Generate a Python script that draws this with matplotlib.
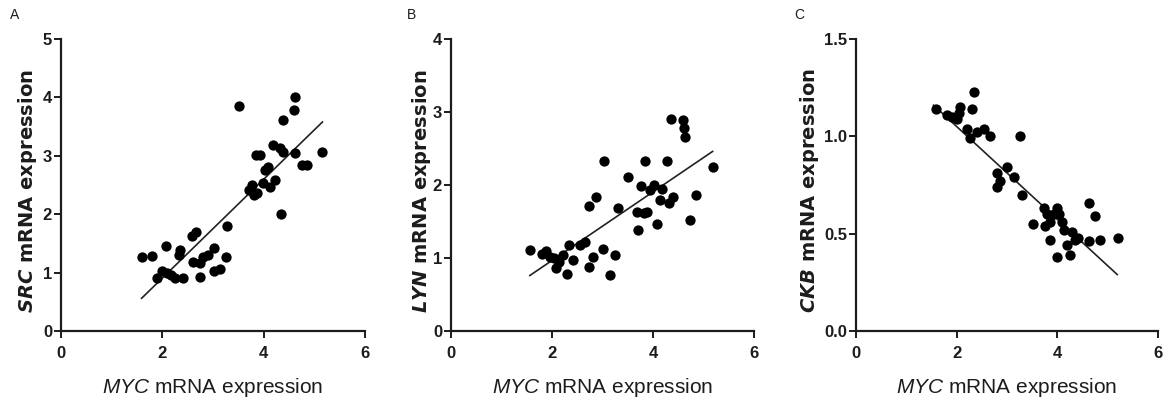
import matplotlib.pyplot as plt

plt.rcParams["font.family"] = ["Liberation Sans", "DejaVu Sans"]
plt.rcParams["mathtext.fontset"] = "custom"
plt.rcParams["mathtext.rm"] = "Liberation Sans"
plt.rcParams["mathtext.it"] = "Liberation Sans:italic"
plt.rcParams["mathtext.bf"] = "DejaVu Sans:bold"
plt.rcParams["mathtext.bfit"] = "DejaVu Sans:italic:bold"

# Panel A: MYC vs SRC
myc_a = [1.59, 1.80, 1.89, 1.99, 2.07, 2.09, 2.18, 2.25, 2.32, 2.35, 2.40, 2.58,
         2.66, 2.60, 2.74, 2.74, 2.81, 2.91, 3.01, 3.01, 3.13, 3.25, 3.28, 3.51,
         3.70, 3.76, 3.80, 3.86, 3.85, 3.93, 3.99, 4.03, 4.09, 4.13, 4.19, 4.22,
         4.32, 4.34, 4.39, 4.38, 4.59, 4.62, 4.61, 4.75, 4.85, 5.16]
src_a = [1.26, 1.28, 0.90, 1.02, 1.46, 0.99, 0.96, 0.90, 1.30, 1.39, 0.90, 1.62,
         1.70, 1.19, 1.16, 0.93, 1.27, 1.30, 1.42, 1.02, 1.07, 1.26, 1.80, 3.85,
         2.41, 2.50, 2.33, 2.36, 3.01, 3.01, 2.53, 2.76, 2.81, 2.47, 3.18, 2.59,
         3.13, 2.01, 3.07, 3.62, 3.78, 4.01, 3.04, 2.85, 2.85, 3.07]
fit_a_x = [1.59, 5.16]
fit_a_y = [0.56, 3.58]

# Panel B: MYC vs LYN
myc_b = [1.56, 1.80, 1.89, 1.96, 2.03, 2.07, 2.13, 2.22, 2.29, 2.34, 2.41, 2.55,
         2.65, 2.74, 2.74, 2.81, 2.88, 3.02, 3.00, 3.14, 3.25, 3.30, 3.51, 3.71,
         3.68, 3.76, 3.82, 3.84, 3.89, 3.94, 4.01, 4.07, 4.13, 4.17, 4.27, 4.32,
         4.39, 4.36, 4.60, 4.61, 4.63, 4.73, 4.85, 5.18]
lyn_b = [1.11, 1.05, 1.09, 1.02, 1.00, 0.86, 0.95, 1.04, 0.78, 1.18, 0.97, 1.18,
         1.22, 1.71, 0.88, 1.02, 1.84, 2.33, 1.13, 0.77, 1.04, 1.68, 2.11, 1.38,
         1.63, 1.98, 1.61, 2.33, 1.63, 1.93, 2.00, 1.47, 1.79, 1.95, 2.33, 1.75,
         1.84, 2.90, 2.89, 2.78, 2.66, 1.52, 1.86, 2.25]
fit_b_x = [1.56, 5.18]
fit_b_y = [0.76, 2.46]

# Panel C: MYC vs CKB
myc_c = [1.58, 1.81, 1.91, 2.01, 2.06, 2.04, 2.21, 2.26, 2.30, 2.34, 2.40, 2.54,
         2.67, 2.80, 2.80, 2.87, 3.00, 3.13, 3.26, 3.30, 3.52, 3.73, 3.79, 3.86,
         3.76, 3.85, 3.93, 3.99, 4.03, 3.99, 4.09, 4.13, 4.19, 4.26, 4.29, 4.36,
         4.42, 4.62, 4.62, 4.75, 4.85, 5.20]
ckb_c = [1.14, 1.11, 1.10, 1.09, 1.15, 1.12, 1.04, 0.99, 1.14, 1.23, 1.02, 1.04,
         1.00, 0.81, 0.74, 0.77, 0.84, 0.79, 1.00, 0.70, 0.55, 0.63, 0.60, 0.56,
         0.54, 0.47, 0.60, 0.63, 0.60, 0.38, 0.56, 0.52, 0.44, 0.39, 0.51, 0.47,
         0.48, 0.66, 0.46, 0.59, 0.47, 0.48]
fit_c_x = [1.54, 5.19]
fit_c_y = [1.16, 0.29]

PANELS = [
    ("A", myc_a, src_a, fit_a_x, fit_a_y, "SRC", [0, 1, 2, 3, 4, 5], "{:g}"),
    ("B", myc_b, lyn_b, fit_b_x, fit_b_y, "LYN", [0, 1, 2, 3, 4], "{:g}"),
    ("C", myc_c, ckb_c, fit_c_x, fit_c_y, "CKB", [0.0, 0.5, 1.0, 1.5], "{:.1f}"),
]

POSITIONS = [
    [0.0523, 0.1827, 0.2605, 0.7210],
    [0.3865, 0.1827, 0.2596, 0.7210],
    [0.7335, 0.1827, 0.2588, 0.7210],
]
YLABEL_X = [-0.072, -0.059, -0.116]
LETTER_X = [0.0129, 0.353, 0.685]

INK = "#1c1c1c"

fig = plt.figure(figsize=(11.67, 4.05), dpi=100, facecolor="white")

for (letter, xs, ys, fx, fy, gene, yticks, fmt), pos, ylx, lx in zip(
        PANELS, POSITIONS, YLABEL_X, LETTER_X):
    ax = fig.add_axes(pos)
    ax.scatter(xs, ys, s=55, color="black", zorder=3, linewidths=0)
    ax.plot(fx, fy, color="#222222", lw=1.2, zorder=2)

    ax.set_xlim(0, 6)
    ax.set_ylim(yticks[0], yticks[-1])
    ax.set_xticks([0, 2, 4, 6])
    ax.set_yticks(yticks)
    ax.set_yticklabels([fmt.format(t) for t in yticks])

    for side in ("top", "right"):
        ax.spines[side].set_visible(False)
    for side in ("left", "bottom"):
        ax.spines[side].set_linewidth(1.6)
        ax.spines[side].set_color(INK)
    ax.tick_params(direction="out", length=5, width=1.4, color=INK,
                   labelsize=12, labelcolor=INK)
    ax.tick_params(axis="x", pad=6)
    ax.tick_params(axis="y", pad=1.5)
    for lab in ax.get_xticklabels() + ax.get_yticklabels():
        lab.set_fontweight("bold")

    ax.set_xlabel(r"$\mathit{MYC}$ mRNA expression", fontsize=15, color=INK)
    ax.xaxis.set_label_coords(0.5, -0.155)
    ax.set_ylabel(r"$\mathbfit{" + gene + r"}$ mRNA expression", fontsize=14,
                  fontweight="bold", color=INK, family=["DejaVu Sans"])
    ax.yaxis.set_label_coords(ylx, 0.48)

    fig.text(lx, 0.962, letter, fontsize=10, color=INK,
             ha="center", va="center")

fig.savefig("out.png", dpi=100, facecolor="white")
